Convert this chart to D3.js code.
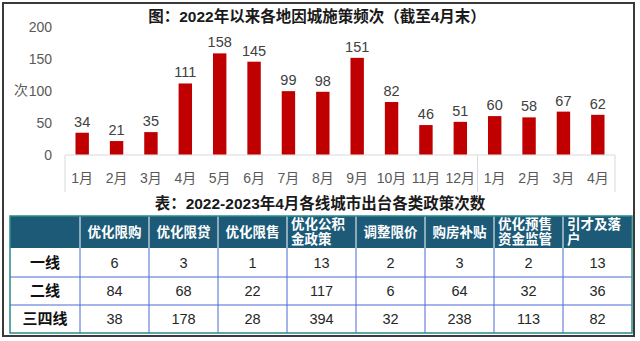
<!DOCTYPE html>
<html><head><meta charset="utf-8">
<script src="https://cdn.jsdelivr.net/npm/d3@7"></script>
<style>
html,body{margin:0;padding:0;background:#fff;}
svg{display:block;font-family:"Liberation Sans","Noto Sans CJK SC",sans-serif;}
</style></head>
<body>
<script>
const months = ["1月","2月","3月","4月","5月","6月","7月","8月","9月","10月","11月","12月","1月","2月","3月","4月"];
const values = [34,21,35,111,158,145,99,98,151,82,46,51,60,58,67,62];
const yTicks = [0,50,100,150,200];
const chartTitle = "图：2022年以来各地因城施策频次（截至4月末）";
const tableTitle = "表：2022-2023年4月各线城市出台各类政策次数";
const tableCols = [["优化限购"],["优化限贷"],["优化限售"],["优化公积","金政策"],["调整限价"],["购房补贴"],["优化预售","资金监管"],["引才及落","户"]];
const tableRows = ["一线","二线","三四线"];
const tier1 = [6,3,1,13,2,3,2,13];
const tier2 = [84,68,22,117,6,64,32,36];
const tier3 = [38,178,28,394,32,238,113,82];
const tableData = [tier1, tier2, tier3];

const W = 640, H = 341;
const svg = d3.select("body").append("svg").attr("width", W).attr("height", H);

// outer frame
svg.append("rect").attr("x",3).attr("y",3).attr("width",631).attr("height",333)
  .attr("fill","none").attr("stroke","#3a3a3a").attr("stroke-width",2);

// chart title
svg.append("text").attr("x",317).attr("y",22).attr("text-anchor","middle")
  .attr("font-size",15.5).attr("font-weight","bold").attr("fill","#1a1a1a").text(chartTitle);

const x = d3.scaleBand().domain(d3.range(months.length)).range([65,615]).paddingInner(0.61).paddingOuter(0.305);
const y = d3.scaleLinear().domain([0,200]).range([154.5,26.5]);

// y tick labels
svg.append("g").selectAll("text").data(yTicks).join("text")
  .attr("x",52).attr("y",d=>y(d)+5).attr("text-anchor","end")
  .attr("font-size",14).attr("fill","#595959").text(d=>d);
svg.append("text").attr("x",14).attr("y",95).attr("font-size",14).attr("fill","#595959").text("次");

// category box
const band = x.step();
const box = svg.append("g").attr("stroke","#d9d9d9").attr("stroke-width",1).attr("fill","none");
box.append("line").attr("x1",65).attr("x2",615).attr("y1",155).attr("y2",155);
[65, 65+band*12, 615].forEach(v=>{
  box.append("line").attr("x1",v).attr("x2",v).attr("y1",155).attr("y2",192);
});

// bars
svg.append("g").selectAll("rect").data(values).join("rect")
  .attr("x",(d,i)=>x(i)).attr("width",x.bandwidth())
  .attr("y",d=>y(d)).attr("height",d=>y(0)-y(d)).attr("fill","#c00000");

// value labels
svg.append("g").selectAll("text").data(values).join("text")
  .attr("x",(d,i)=>x(i)+x.bandwidth()/2).attr("y",d=>y(d)-6)
  .attr("text-anchor","middle").attr("font-size",14.5).attr("fill","#404040").text(d=>d);

// x labels
svg.append("g").selectAll("text").data(months).join("text")
  .attr("x",(d,i)=>x(i)+x.bandwidth()/2).attr("y",183)
  .attr("text-anchor","middle").attr("font-size",14).attr("fill","#595959").text(d=>d);

// table title
svg.append("text").attr("x",320).attr("y",209).attr("text-anchor","middle")
  .attr("font-size",15.5).attr("font-weight","bold").attr("fill","#1a1a1a").text(tableTitle);

// table
const colEdges = [10].concat(d3.range(9).map(i=>80+i*69));
const rowEdges = [216,248,277,305,333];
const tbl = svg.append("g");
// header fill
tbl.append("rect").attr("x",10).attr("y",216).attr("width",622).attr("height",32).attr("fill","#1c5a78");
// grid lines
for (let i=1;i<colEdges.length-1;i++){
  tbl.append("line").attr("x1",colEdges[i]).attr("x2",colEdges[i]).attr("y1",216).attr("y2",248)
    .attr("stroke","#ffffff").attr("stroke-width",1);
  tbl.append("line").attr("x1",colEdges[i]).attr("x2",colEdges[i]).attr("y1",248).attr("y2",333)
    .attr("stroke","#4a6ad8").attr("stroke-width",1);
}
for (let j=2;j<rowEdges.length-1;j++){
  tbl.append("line").attr("x1",10).attr("x2",632).attr("y1",rowEdges[j]).attr("y2",rowEdges[j])
    .attr("stroke","#4a6ad8").attr("stroke-width",1);
}
tbl.append("rect").attr("x",10).attr("y",216).attr("width",622).attr("height",117)
  .attr("fill","none").attr("stroke","#2a8a8c").attr("stroke-width",1.5);

// header text
tableCols.forEach((lines,i)=>{
  const cx = colEdges[i+1], cw = 69;
  if (lines.length===1){
    tbl.append("text").attr("x",cx+cw/2).attr("y",237).attr("text-anchor","middle")
      .attr("font-size",13.5).attr("font-weight","bold").attr("fill","#ffffff").text(lines[0]);
  } else {
    lines.forEach((t,k)=>{
      tbl.append("text").attr("x",cx+4).attr("y",229+k*15)
        .attr("font-size",13.5).attr("font-weight","bold").attr("fill","#ffffff").text(t);
    });
  }
});
// row labels and values
tableRows.forEach((r,j)=>{
  const cy = (rowEdges[j+1]+rowEdges[j+2])/2 + 5;
  tbl.append("text").attr("x",45).attr("y",cy).attr("text-anchor","middle")
    .attr("font-size",15).attr("font-weight","bold").attr("fill","#111").text(r);
  tableData[j].forEach((v,i)=>{
    tbl.append("text").attr("x",colEdges[i+1]+34.5).attr("y",cy).attr("text-anchor","middle")
      .attr("font-size",14.5).attr("fill","#262626").text(v);
  });
});
</script>
</body></html>
